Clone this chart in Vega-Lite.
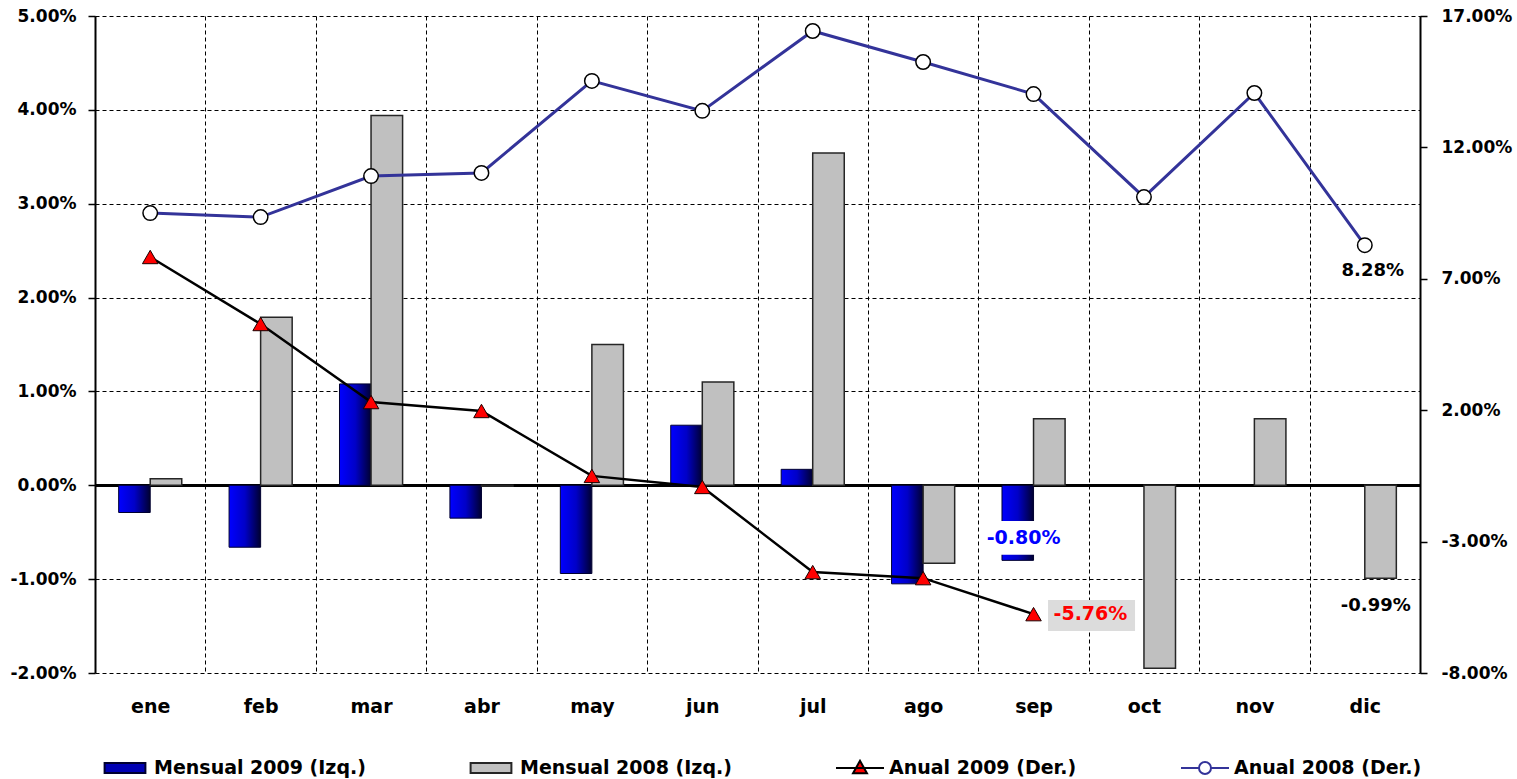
{
"$schema":"https://vega.github.io/schema/vega-lite/v6.json",
"width":1325,"height":657,
"autosize":{"type":"none"},
"padding":{"left":95,"top":16,"right":97,"bottom":106},
"background":"white",
"config":{
 "font":"DejaVu Sans",
 "view":{"stroke":null},
 "locale":{"number":{"decimal":".","thousands":",","grouping":[3],"currency":["$",""],"minus":"-","percent":"%"}},
 "axis":{"labelColor":"black","labelFontWeight":"bold","titleColor":"black","domainColor":"black","tickColor":"black","labelFont":"DejaVu Sans"}
},
"data":{"values":[
 {"mes":"ene","serie":"Mensual 2009 (Izq.)","valor":-0.0029},
 {"mes":"feb","serie":"Mensual 2009 (Izq.)","valor":-0.0066},
 {"mes":"mar","serie":"Mensual 2009 (Izq.)","valor":0.0108},
 {"mes":"abr","serie":"Mensual 2009 (Izq.)","valor":-0.0035},
 {"mes":"may","serie":"Mensual 2009 (Izq.)","valor":-0.0094},
 {"mes":"jun","serie":"Mensual 2009 (Izq.)","valor":0.0064},
 {"mes":"jul","serie":"Mensual 2009 (Izq.)","valor":0.0017},
 {"mes":"ago","serie":"Mensual 2009 (Izq.)","valor":-0.0105},
 {"mes":"sep","serie":"Mensual 2009 (Izq.)","valor":-0.0080},
 {"mes":"ene","serie":"Mensual 2008 (Izq.)","valor":0.0007},
 {"mes":"feb","serie":"Mensual 2008 (Izq.)","valor":0.0179},
 {"mes":"mar","serie":"Mensual 2008 (Izq.)","valor":0.0394},
 {"mes":"abr","serie":"Mensual 2008 (Izq.)","valor":-0.0001},
 {"mes":"may","serie":"Mensual 2008 (Izq.)","valor":0.0150},
 {"mes":"jun","serie":"Mensual 2008 (Izq.)","valor":0.0110},
 {"mes":"jul","serie":"Mensual 2008 (Izq.)","valor":0.0354},
 {"mes":"ago","serie":"Mensual 2008 (Izq.)","valor":-0.0083},
 {"mes":"sep","serie":"Mensual 2008 (Izq.)","valor":0.0071},
 {"mes":"oct","serie":"Mensual 2008 (Izq.)","valor":-0.0195},
 {"mes":"nov","serie":"Mensual 2008 (Izq.)","valor":0.0071},
 {"mes":"dic","serie":"Mensual 2008 (Izq.)","valor":-0.0099},
 {"mes":"ene","serie":"Anual 2009 (Der.)","valor":0.0783},
 {"mes":"feb","serie":"Anual 2009 (Der.)","valor":0.0528},
 {"mes":"mar","serie":"Anual 2009 (Der.)","valor":0.0231},
 {"mes":"abr","serie":"Anual 2009 (Der.)","valor":0.0197},
 {"mes":"may","serie":"Anual 2009 (Der.)","valor":-0.0050},
 {"mes":"jun","serie":"Anual 2009 (Der.)","valor":-0.0092},
 {"mes":"jul","serie":"Anual 2009 (Der.)","valor":-0.0416},
 {"mes":"ago","serie":"Anual 2009 (Der.)","valor":-0.0439},
 {"mes":"sep","serie":"Anual 2009 (Der.)","valor":-0.0576},
 {"mes":"ene","serie":"Anual 2008 (Der.)","valor":0.0950},
 {"mes":"feb","serie":"Anual 2008 (Der.)","valor":0.0935},
 {"mes":"mar","serie":"Anual 2008 (Der.)","valor":0.1091},
 {"mes":"abr","serie":"Anual 2008 (Der.)","valor":0.1103},
 {"mes":"may","serie":"Anual 2008 (Der.)","valor":0.1453},
 {"mes":"jun","serie":"Anual 2008 (Der.)","valor":0.1339},
 {"mes":"jul","serie":"Anual 2008 (Der.)","valor":0.1643},
 {"mes":"ago","serie":"Anual 2008 (Der.)","valor":0.1525},
 {"mes":"sep","serie":"Anual 2008 (Der.)","valor":0.1403},
 {"mes":"oct","serie":"Anual 2008 (Der.)","valor":0.1011},
 {"mes":"nov","serie":"Anual 2008 (Der.)","valor":0.1407},
 {"mes":"dic","serie":"Anual 2008 (Der.)","valor":0.0828}
]},
"encoding":{"x":{"field":"mes","type":"nominal","sort":["ene","feb","mar","abr","may","jun","jul","ago","sep","oct","nov","dic"],"scale":{"paddingInner":0,"paddingOuter":0},
 "axis":{"title":null,"labelAngle":0,"domain":false,"ticks":false,"grid":true,"gridColor":"black","gridDash":[4,3],"gridWidth":1,"tickBand":"extent","labelFontSize":19,"labelPadding":24}}},
"layer":[
 {"encoding":{"y":{"field":"valor","type":"quantitative","scale":{"domain":[-0.02,0.05],"nice":false},
   "axis":{"title":null,"orient":"left","values":[-0.02,-0.01,0,0.01,0.02,0.03,0.04,0.05],"format":".2%","labelFontSize":17,"labelPadding":12,"tickSize":7,"tickWidth":1.5,"domainWidth":2,"grid":true,"gridColor":"black",
     "gridDash":{"condition":{"test":"datum.value === 0","value":[]},"value":[4,3]},
     "gridWidth":{"condition":{"test":"datum.value === 0","value":3},"value":1}}}},
  "layer":[
   {"transform":[{"filter":"datum.serie === 'Mensual 2009 (Izq.)'"}],
    "mark":{"type":"bar","fill":{"gradient":"linear","x1":0,"y1":0,"x2":1,"y2":0,"stops":[{"offset":0,"color":"#0000ff"},{"offset":0.5,"color":"#0000c8"},{"offset":1,"color":"#000030"}]},"stroke":"#000030","strokeWidth":1},
    "encoding":{"xOffset":{"field":"serie","type":"nominal","scale":{"domain":["Mensual 2009 (Izq.)","Mensual 2008 (Izq.)"],"paddingInner":0,"paddingOuter":0.75}}}},
   {"transform":[{"filter":"datum.serie === 'Mensual 2008 (Izq.)'"}],
    "mark":{"type":"bar","fill":"#c0c0c0","stroke":"#262626","strokeWidth":1.5},
    "encoding":{"xOffset":{"field":"serie","type":"nominal","scale":{"domain":["Mensual 2009 (Izq.)","Mensual 2008 (Izq.)"],"paddingInner":0,"paddingOuter":0.75}}}},
   {"transform":[{"filter":"datum.serie === 'Mensual 2009 (Izq.)' && datum.mes === 'sep'"}],
    "mark":{"type":"bar","fill":"white","width":74,"xOffset":-10},
    "encoding":{"y":{"datum":-0.0038,"type":"quantitative"},"y2":{"datum":-0.0074}}},
   {"transform":[{"filter":"datum.serie === 'Mensual 2009 (Izq.)' && datum.mes === 'sep'"}],
    "mark":{"type":"text","color":"#0000ff","fontSize":19,"fontWeight":"bold","dx":-10,"dy":-22,"align":"center","baseline":"middle"},
    "encoding":{"text":{"field":"valor","type":"quantitative","format":".2%"}}},
   {"transform":[{"filter":"datum.serie === 'Mensual 2008 (Izq.)' && datum.mes === 'dic'"}],
    "mark":{"type":"text","color":"black","fontSize":18,"fontWeight":"bold","dx":11,"dy":28,"align":"center","baseline":"middle"},
    "encoding":{"text":{"field":"valor","type":"quantitative","format":".2%"}}},
   {"transform":[{"filter":"false"}],
    "mark":{"type":"point","filled":true,"opacity":1},
    "encoding":{
     "shape":{"field":"serie","type":"nominal","scale":{"domain":["Mensual 2009 (Izq.)","Mensual 2008 (Izq.)","Anual 2009 (Der.)","Anual 2008 (Der.)"],
        "range":["M-0.85,-0.21H0.85V0.21H-0.85Z","M-0.85,-0.21H0.85V0.21H-0.85Z","M-1,0H1M-0.29,0.22L0,-0.3L0.29,0.22Z","M-1,0H-0.25M0.25,0H1M-0.25,0A0.25,0.25,0,1,1,0.25,0A0.25,0.25,0,1,1,-0.25,0Z"]},
      "legend":{"title":null,"orient":"none","legendX":5,"legendY":727,"direction":"horizontal","columns":4,"gridAlign":"none","columnPadding":100,"symbolSize":2304,"symbolOpacity":1,"symbolStrokeWidth":2,"labelFontSize":19,"labelFontWeight":"bold","labelColor":"black","labelOffset":4,"labelLimit":400,"labelFont":"DejaVu Sans"}},
     "fill":{"field":"serie","type":"nominal","scale":{"domain":["Mensual 2009 (Izq.)","Mensual 2008 (Izq.)","Anual 2009 (Der.)","Anual 2008 (Der.)"],
        "range":["#0000b4","#c0c0c0","#ff0000","#ffffff"]},
      "legend":{"title":null}},
     "stroke":{"field":"serie","type":"nominal","scale":{"domain":["Mensual 2009 (Izq.)","Mensual 2008 (Izq.)","Anual 2009 (Der.)","Anual 2008 (Der.)"],
        "range":["#000030","#262626","#000000","#333399"]},
      "legend":{"title":null}}
    }}
  ]},
 {"encoding":{"y":{"field":"valor","type":"quantitative","scale":{"domain":[-0.08,0.17],"nice":false},
   "axis":{"title":null,"orient":"right","values":[-0.08,-0.03,0.02,0.07,0.12,0.17],"format":".2%","labelFontSize":17,"labelPadding":14,"tickSize":7,"tickWidth":1.5,"domainWidth":2,"grid":false}}},
  "layer":[
   {"transform":[{"filter":"datum.serie === 'Anual 2009 (Der.)' && datum.mes === 'sep'"}],
    "mark":{"type":"bar","fill":"#dcdcdc","width":87,"xOffset":58},
    "encoding":{"y":{"datum":-0.0522,"type":"quantitative"},"y2":{"datum":-0.0640}}},
   {"transform":[{"filter":"datum.serie === 'Anual 2008 (Der.)'"}],
    "mark":{"type":"line","stroke":"#333399","strokeWidth":3},"encoding":{}},
   {"transform":[{"filter":"datum.serie === 'Anual 2008 (Der.)'"}],
    "mark":{"type":"point","shape":"circle","filled":true,"fill":"white","stroke":"black","strokeWidth":1.5,"size":210,"opacity":1}},
   {"transform":[{"filter":"datum.serie === 'Anual 2009 (Der.)'"}],
    "mark":{"type":"line","stroke":"black","strokeWidth":2.5},"encoding":{}},
   {"transform":[{"filter":"datum.serie === 'Anual 2009 (Der.)'"}],
    "mark":{"type":"point","shape":"triangle-up","filled":true,"fill":"#ff0000","stroke":"#1a0000","strokeWidth":1,"size":240,"opacity":1}},
   {"transform":[{"filter":"datum.serie === 'Anual 2008 (Der.)' && datum.mes === 'dic'"}],
    "mark":{"type":"text","color":"black","fontSize":18,"fontWeight":"bold","dx":8,"dy":26,"align":"center","baseline":"middle"},
    "encoding":{"text":{"field":"valor","type":"quantitative","format":".2%"}}},
   {"transform":[{"filter":"datum.serie === 'Anual 2009 (Der.)' && datum.mes === 'sep'"}],
    "mark":{"type":"text","color":"#ff0000","fontSize":19,"fontWeight":"bold","dx":20,"dy":0,"align":"left","baseline":"middle"},
    "encoding":{"text":{"field":"valor","type":"quantitative","format":".2%"}}}
  ]}
],
"resolve":{"scale":{"y":"independent"}}
}
